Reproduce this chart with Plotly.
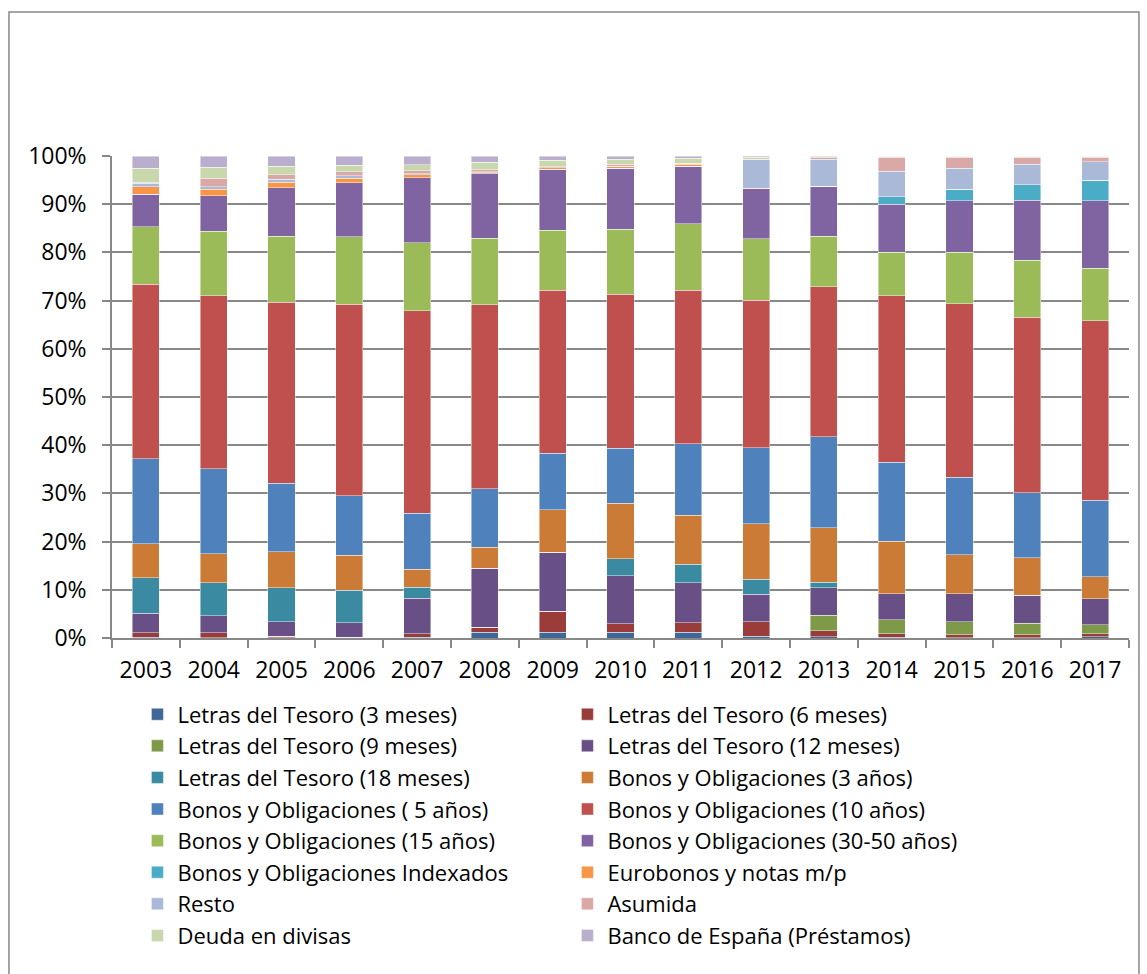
import plotly.graph_objects as go

years = ["2003", "2004", "2005", "2006", "2007", "2008", "2009", "2010",
         "2011", "2012", "2013", "2014", "2015", "2016", "2017"]

letras_3m   = [0.2, 0.1, 0.1, 0.1, 0.2, 1.2, 1.2, 1.2, 1.2, 0.4, 0.3, 0.2, 0.1, 0.1, 0.3]
letras_6m   = [0.9, 1.0, 0.3, 0.1, 0.7, 1.0, 4.3, 1.8, 2.0, 3.0, 1.2, 0.7, 0.6, 0.6, 0.6]
letras_9m   = [0.0, 0.0, 0.0, 0.0, 0.0, 0.0, 0.0, 0.0, 0.0, 0.0, 3.2, 2.9, 2.7, 2.4, 1.9]
letras_12m  = [4.0, 3.5, 3.0, 3.0, 7.3, 12.3, 12.3, 9.9, 8.3, 5.7, 5.7, 5.4, 5.8, 5.8, 5.3]
letras_18m  = [7.4, 6.9, 7.0, 6.7, 2.3, 0.0, 0.0, 3.6, 3.8, 3.1, 1.2, 0.0, 0.0, 0.0, 0.0]
bonos_3a    = [7.1, 6.0, 7.5, 7.3, 3.8, 4.3, 8.8, 11.5, 10.2, 11.5, 11.2, 10.9, 8.1, 7.8, 4.6]
bonos_5a    = [17.7, 17.6, 14.2, 12.3, 11.6, 12.2, 11.7, 11.4, 14.8, 15.8, 18.9, 16.4, 16.1, 13.4, 15.9]
bonos_10a   = [36.2, 35.9, 37.6, 39.7, 42.0, 38.1, 33.9, 32.0, 31.9, 30.6, 31.1, 34.5, 35.9, 36.4, 37.2]
bonos_15a   = [12.0, 13.4, 13.7, 14.0, 14.1, 13.8, 12.4, 13.5, 13.8, 12.7, 10.5, 9.0, 10.7, 11.9, 10.9]
bonos_30_50 = [6.7, 7.4, 10.0, 11.3, 13.5, 13.4, 12.7, 12.7, 12.0, 10.4, 10.3, 10.0, 10.7, 12.4, 14.0]
indexados   = [0.0, 0.0, 0.0, 0.0, 0.0, 0.0, 0.0, 0.0, 0.0, 0.0, 0.0, 1.5, 2.4, 3.2, 4.3]
eurobonos   = [1.6, 1.3, 1.2, 0.9, 0.6, 0.2, 0.3, 0.3, 0.4, 0.1, 0.0, 0.0, 0.0, 0.0, 0.0]
resto       = [0.7, 0.5, 0.6, 0.5, 0.2, 0.2, 0.0, 0.1, 0.1, 5.9, 5.6, 5.3, 4.4, 4.3, 3.8]
asumida     = [0.2, 1.8, 0.9, 0.8, 0.6, 0.5, 0.2, 0.4, 0.1, 0.1, 0.3, 2.9, 2.2, 1.4, 0.9]
divisas     = [3.0, 2.3, 1.8, 1.4, 1.3, 1.5, 1.3, 1.0, 1.0, 0.4, 0.2, 0.2, 0.2, 0.2, 0.2]
banco_esp   = [2.5, 2.3, 2.1, 1.9, 1.8, 1.3, 0.9, 0.7, 0.5, 0.3, 0.2, 0.1, 0.1, 0.1, 0.1]

series = [
    ("Letras del Tesoro (3 meses)", letras_3m, "#3F6797"),
    ("Letras del Tesoro (6 meses)", letras_6m, "#9A3D3A"),
    ("Letras del Tesoro (9 meses)", letras_9m, "#7E9A48"),
    ("Letras del Tesoro (12 meses)", letras_12m, "#684F86"),
    ("Letras del Tesoro (18 meses)", letras_18m, "#3A8BA1"),
    ("Bonos y Obligaciones (3 años)", bonos_3a, "#CB7B36"),
    ("Bonos y Obligaciones ( 5 años)", bonos_5a, "#4F81BD"),
    ("Bonos y Obligaciones (10 años)", bonos_10a, "#C0504D"),
    ("Bonos y Obligaciones (15 años)", bonos_15a, "#9BBB59"),
    ("Bonos y Obligaciones (30-50 años)", bonos_30_50, "#8064A2"),
    ("Bonos y Obligaciones Indexados", indexados, "#4BACC6"),
    ("Eurobonos y notas m/p", eurobonos, "#F79646"),
    ("Resto", resto, "#AAB9D7"),
    ("Asumida", asumida, "#D9A8A7"),
    ("Deuda en divisas", divisas, "#C8D8AC"),
    ("Banco de España (Préstamos)", banco_esp, "#B9AECE"),
]

FONT = "Open Sans"

fig = go.Figure()
for name, vals, color in series:
    fig.add_trace(go.Bar(
        x=years, y=vals, name=name,
        marker=dict(color=color, line=dict(color="rgba(255,255,255,0.55)", width=0.8)),
    ))

fig.update_layout(
    width=1147, height=974,
    margin=dict(l=112, r=18, t=156, b=336),
    barmode="stack", barnorm="percent", bargap=0.6,
    paper_bgcolor="white", plot_bgcolor="white",
    font=dict(family=FONT, size=22, color="#000000"),
    showlegend=True,
    legend=dict(
        orientation="h", traceorder="normal",
        x=0.025, xanchor="left", y=-0.115, yanchor="top",
        entrywidth=385, entrywidthmode="pixels",
        font=dict(family=FONT, size=22, color="#000000"),
        itemclick=False, itemdoubleclick=False,
    ),
    xaxis=dict(
        type="category", showline=True, linecolor="#888888", linewidth=1.5,
        ticks="outside", tickson="boundaries", ticklen=8, tickcolor="#888888", tickwidth=1.5,
        showgrid=False, ticklabelstandoff=11,
        tickfont=dict(family=FONT, size=23, color="#000000"),
    ),
    yaxis=dict(
        range=[0, 100], dtick=10, ticksuffix="%",
        showline=True, linecolor="#888888", linewidth=1.5,
        ticks="outside", ticklen=8, tickcolor="#888888", tickwidth=1.5,
        showgrid=True, gridcolor="#888888", gridwidth=1.6,
        zeroline=False, ticklabelstandoff=11,
        tickfont=dict(family=FONT, size=23, color="#000000"),
    ),
    shapes=[dict(
        type="rect", xref="paper", yref="paper",
        x0=-0.1013, x1=1.0098, y0=-0.72, y1=1.2988,
        line=dict(color="#888888", width=1.5), fillcolor="rgba(0,0,0,0)", layer="below",
    )],
)

fig.write_html("out.html")
